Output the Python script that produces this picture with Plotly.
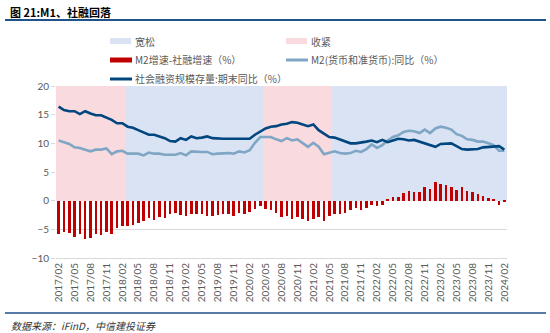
import plotly.graph_objects as go

# ---------------- data ----------------
months = [f"{y}/{m:02d}" for y in range(2017, 2025) for m in range(1, 13)]
months = months[months.index("2017/02"): months.index("2024/02") + 1]

tick_labels = months[::3]

# policy regime bands (background columns, height 20)
band_height = 20
band_periods = [
    ("收紧", "2017/02", "2018/02"),
    ("宽松", "2018/03", "2020/04"),
    ("收紧", "2020/05", "2021/05"),
    ("宽松", "2021/06", "2024/02"),
]

# M2增速-社融增速（%）
m2_minus_tsf = [
    -5.9, -5.5, -5.6, -6.3, -5.9, -6.6, -6.5, -5.9, -6.0, -5.4, -5.9, -4.8,
    -4.5, -4.5, -4.2, -3.9, -3.6, -3.0, -3.3, -2.9, -3.0, -2.3, -2.2, -2.5,
    -2.6, -2.4, -2.4, -2.4, -2.6, -2.7, -2.5, -2.3, -2.4, -2.6, -2.2, -2.4,
    -1.9, -1.5, -1.0, -1.4, -1.7, -2.2, -2.9, -2.6, -3.2, -2.9, -3.2, -3.6,
    -3.2, -2.9, -3.6, -2.7, -2.4, -2.4, -2.1, -1.7, -1.3, -1.6, -1.3, -0.7,
    -1.0, -0.7, 0.3, 0.6, 0.6, 1.3, 1.7, 1.5, 1.5, 2.4, 2.1, 3.2,
    2.9, 2.7, 2.4, 1.9, 2.3, 1.7, 1.5, 1.2, 0.9, 0.5, 0.2, -0.8,
    -0.3,
]

# M2(货币和准货币):同比（%）
m2_yoy = [
    10.5, 10.2, 9.9, 9.3, 9.2, 8.9, 8.6, 8.9, 8.9, 9.1, 8.1, 8.6,
    8.7, 8.2, 8.2, 8.2, 7.9, 8.4, 8.2, 8.2, 8.0, 8.0, 8.0, 8.3,
    7.9, 8.6, 8.5, 8.5, 8.5, 8.1, 8.2, 8.3, 8.3, 8.2, 8.6, 8.4,
    8.8, 10.1, 11.1, 11.1, 11.1, 10.7, 10.4, 10.9, 10.5, 10.7, 10.1, 9.4,
    10.1, 9.4, 8.1, 8.3, 8.6, 8.3, 8.2, 8.3, 8.7, 8.5, 9.0, 9.8,
    9.2, 9.7, 10.5, 11.1, 11.4, 12.0, 12.2, 12.1, 11.8, 12.4, 11.8, 12.6,
    12.9, 12.7, 12.4, 11.6, 11.3, 10.7, 10.6, 10.3, 10.3, 10.0, 9.7, 8.7,
    8.7,
]

# 社会融资规模存量:期末同比（%）
tsf_yoy = [
    16.4, 15.8, 15.6, 15.6, 15.1, 15.6, 15.2, 14.9, 14.9, 14.5, 14.1, 13.5,
    13.5, 12.9, 12.7, 12.3, 11.9, 11.5, 11.5, 11.2, 10.9, 10.4, 10.3, 10.9,
    10.6, 11.2, 10.9, 11.0, 11.2, 10.9, 10.8, 10.8, 10.8, 10.8, 10.8, 10.8,
    10.8, 11.5, 12.1, 12.6, 12.9, 13.0, 13.3, 13.4, 13.7, 13.6, 13.3, 13.0,
    13.3, 12.3, 11.7, 11.1, 11.0, 10.7, 10.3, 10.0, 10.0, 10.1, 10.3, 10.5,
    10.2, 10.6, 10.2, 10.5, 10.8, 10.7, 10.5, 10.6, 10.3, 10.0, 9.6, 9.4,
    9.9, 10.0, 10.0, 9.5, 9.0, 8.9, 9.0, 9.0, 9.3, 9.4, 9.5, 9.5,
    8.9,
]

# ---------------- styling ----------------
C_LOOSE = "#DAE3F3"
C_TIGHT = "#F9DADF"
C_RED = "#C00000"
C_M2 = "#7FA6C4"
C_TSF = "#00467F"
C_TXT = "#595959"
C_GRID = "#D9D9D9"
C_RULE = "#1F5288"
CJK = "Noto Sans CJK SC"
NUM = "Lato"

W, H = 550, 333
L, R, T, B = 56, 507, 86, 258


def px(x):
    return (x - L) / (R - L)


def py(y):
    return (B - y) / (B - T)


def regime_values(name):
    vals = []
    for m in months:
        v = None
        for reg, a, b in band_periods:
            if reg == name and months.index(a) <= months.index(m) <= months.index(b):
                v = band_height
        vals.append(v)
    return vals


fig = go.Figure()
fig.add_trace(go.Bar(x=months, y=regime_values("宽松"), width=1.0, marker_color=C_LOOSE,
                     marker_line_width=0, name="宽松", hoverinfo="skip"))
fig.add_trace(go.Bar(x=months, y=regime_values("收紧"), width=1.0, marker_color=C_TIGHT,
                     marker_line_width=0, name="收紧", hoverinfo="skip"))
fig.add_trace(go.Bar(x=months, y=m2_minus_tsf, width=0.48, marker_color=C_RED,
                     marker_line_width=0, name="M2增速-社融增速（%）"))
fig.add_trace(go.Scatter(x=months, y=m2_yoy, mode="lines", line=dict(color=C_M2, width=2.6),
                         name="M2(货币和准货币):同比（%）"))
fig.add_trace(go.Scatter(x=months, y=tsf_yoy, mode="lines", line=dict(color=C_TSF, width=2.6),
                         name="社会融资规模存量:期末同比（%）"))

shapes = []
annotations = []

# title and rule
annotations.append(dict(xref="paper", yref="paper", x=px(8), y=py(12), xanchor="left", yanchor="middle",
                        text="<b>图 21:M1、社融回落</b>", showarrow=False,
                        font=dict(family=CJK, size=11, color="#000000")))
shapes.append(dict(type="line", xref="paper", yref="paper", x0=px(5), x1=px(546), y0=py(20), y1=py(20),
                   line=dict(color=C_RULE, width=2)))

# footer
shapes.append(dict(type="line", xref="paper", yref="paper", x0=px(5), x1=px(546), y0=py(313), y1=py(313),
                   line=dict(color=C_RULE, width=1.5)))
annotations.append(dict(xref="paper", yref="paper", x=px(9), y=py(325), xanchor="left", yanchor="middle",
                        text="<i>数据来源：iFinD，中信建投证券</i>", showarrow=False,
                        font=dict(family=CJK, size=10, color="#333333")))

# manual legend
legend_items = [
    ("rect", C_LOOSE, "宽松", 110, 41),
    ("rect", C_TIGHT, "收紧", 286, 41),
    ("bar", C_RED, "M2增速-社融增速（%）", 110, 60),
    ("line", C_M2, "M2(货币和准货币):同比（%）", 286, 60),
    ("line", C_TSF, "社会融资规模存量:期末同比（%）", 110, 79),
]
for kind, col, label, x0, yc in legend_items:
    if kind == "rect":
        shapes.append(dict(type="rect", xref="paper", yref="paper", x0=px(x0), x1=px(x0 + 21),
                           y0=py(yc + 3), y1=py(yc - 3), fillcolor=col, line=dict(width=0)))
    elif kind == "bar":
        shapes.append(dict(type="rect", xref="paper", yref="paper", x0=px(x0), x1=px(x0 + 22),
                           y0=py(yc + 2.5), y1=py(yc - 2.5), fillcolor=col, line=dict(width=0)))
    else:
        shapes.append(dict(type="line", xref="paper", yref="paper", x0=px(x0), x1=px(x0 + 22),
                           y0=py(yc), y1=py(yc), line=dict(color=col, width=3)))
    annotations.append(dict(xref="paper", yref="paper", x=px(x0 + 23), y=py(yc), xanchor="left",
                            yanchor="middle", text=label, showarrow=False,
                            font=dict(family=CJK, size=10, color=C_TXT)))

fig.update_layout(
    width=W, height=H,
    margin=dict(l=L, r=W - R, t=T, b=H - B, pad=0),
    paper_bgcolor="white", plot_bgcolor="white",
    barmode="overlay", bargap=0,
    showlegend=False,
    shapes=shapes, annotations=annotations,
    font=dict(family=NUM, size=10, color=C_TXT),
)
fig.update_xaxes(type="category", categoryorder="array", categoryarray=months,
                 range=[-0.5, len(months) - 0.5],
                 tickmode="array", tickvals=tick_labels, ticktext=tick_labels,
                 tickangle=-90, tickfont=dict(family=NUM, size=10, color=C_TXT),
                 showgrid=False, showline=True, linecolor=C_GRID, linewidth=1,
                 ticks="", fixedrange=True)
fig.update_yaxes(range=[-10, 20], dtick=5, tick0=0,
                 tickfont=dict(family=NUM, size=10, color=C_TXT),
                 showgrid=True, gridcolor=C_GRID, gridwidth=1,
                 zeroline=True, zerolinecolor=C_GRID, zerolinewidth=1,
                 showline=False, ticks="outside", ticklen=4, tickcolor=C_GRID,
                 fixedrange=True)

fig.write_html("out.html")
